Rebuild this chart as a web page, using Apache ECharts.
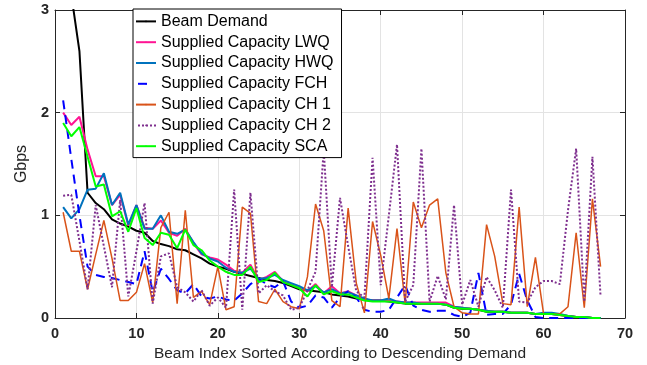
<!DOCTYPE html>
<html>
<head>
<meta charset="utf-8">
<script src="https://cdn.jsdelivr.net/npm/echarts@6/dist/echarts.min.js"></script>
<style>
  html, body { margin: 0; padding: 0; background: #fff; }
  #main { width: 647px; height: 365px; }
</style>
</head>
<body>
<div id="main"></div>
<script>
/* beam index 1..67 along x */
var beams = [];
for (var b = 1; b <= 67; b++) beams.push(b);

var beamDemand = [4.5, 3.15, 2.6, 1.22, 1.12, 1.06, 0.96, 0.92, 0.89, 0.85,
    0.83, 0.75, 0.72, 0.70, 0.67, 0.66, 0.62, 0.58, 0.53, 0.50,
    0.48, 0.45, 0.43, 0.41, 0.39, 0.37, 0.36, 0.34, 0.31, 0.28,
    0.27, 0.26, 0.25, 0.23, 0.22, 0.21, 0.19, 0.18, 0.17, 0.17,
    0.16, 0.15, 0.14, 0.14, 0.14, 0.14, 0.14, 0.13, 0.10, 0.09,
    0.09, 0.08, 0.06, 0.06, 0.06, 0.05, 0.05, 0.05, 0.04, 0.04,
    0.04, 0.03, 0.02, 0.01, 0.01, 0.0, 0.0];

var capLWQ = [2.0, 1.88, 1.96, 1.64, 1.38, 1.38, 1.10, 1.20, 0.90, 1.10,
    0.88, 0.87, 0.95, 0.83, 0.80, 0.87, 0.73, 0.62, 0.59, 0.57,
    0.52, 0.46, 0.44, 0.52, 0.37, 0.40, 0.45, 0.36, 0.33, 0.30,
    0.26, 0.33, 0.24, 0.31, 0.24, 0.26, 0.22, 0.18, 0.17, 0.17,
    0.17, 0.16, 0.15, 0.15, 0.15, 0.15, 0.15, 0.15, 0.11, 0.10,
    0.09, 0.08, 0.07, 0.06, 0.06, 0.05, 0.05, 0.05, 0.04, 0.04,
    0.04, 0.03, 0.02, 0.01, 0.01, 0.0, 0.0];

var capHWQ = [1.08, 0.97, 1.06, 1.25, 1.26, 1.41, 1.10, 1.22, 0.91, 1.10,
    0.87, 0.87, 1.00, 0.84, 0.82, 0.86, 0.74, 0.63, 0.58, 0.55,
    0.49, 0.45, 0.44, 0.48, 0.38, 0.39, 0.42, 0.37, 0.34, 0.31,
    0.27, 0.31, 0.25, 0.28, 0.24, 0.25, 0.22, 0.19, 0.17, 0.17,
    0.19, 0.16, 0.15, 0.15, 0.14, 0.14, 0.14, 0.13, 0.11, 0.10,
    0.09, 0.08, 0.07, 0.06, 0.06, 0.05, 0.05, 0.05, 0.04, 0.05,
    0.05, 0.04, 0.02, 0.01, 0.01, 0.0, 0.0];

var capFCH = [2.12, 1.55, 1.0, 0.5, 0.42, 0.40, 0.39, 0.37, 0.35, 0.33,
    0.65, 0.25, 0.48, 0.38, 0.27, 0.24, 0.33, 0.21, 0.19, 0.21,
    0.18, 0.17, 0.24, 0.33, 0.38, 0.33, 0.30, 0.36, 0.16, 0.10,
    0.12, 0.22, 0.20, 0.10, 0.20, 0.26, 0.20, 0.08, 0.06, 0.06,
    0.08, 0.20, 0.32, 0.12, 0.08, 0.06, 0.07, 0.07, 0.03, 0.01,
    0.05, 0.44, 0.03, 0.04, 0.04, 0.13, 0.43, 0.17, 0.01, 0.0,
    0.0, 0.0, 0.0, 0.0, 0.0, 0.0, 0.0];

var capCH1 = [1.03, 0.65, 0.65, 0.28, 0.62, 0.95, 0.58, 0.17, 0.17, 0.25,
    0.53, 0.15, 0.88, 1.03, 0.14, 1.05, 0.20, 0.26, 0.13, 0.50,
    0.08, 0.11, 1.08, 1.02, 0.16, 0.14, 0.28, 0.16, 0.11, 0.09,
    0.40, 1.11, 0.85, 0.17, 0.11, 1.07, 0.34, 0.05, 0.94, 0.61,
    0.19, 0.87, 0.14, 1.13, 0.88, 1.10, 1.16, 0.44, 0.11, 0.05,
    0.04, 0.04, 0.91, 0.60, 0.14, 0.13, 1.08, 0.11, 0.59, 0.04,
    0.04, 0.04, 0.11, 0.83, 0.10, 1.16, 0.50];

var capCH2 = [1.19, 1.20, 0.75, 0.28, 1.10, 0.70, 0.30, 1.15, 0.21, 0.65,
    1.12, 0.14, 0.60, 0.63, 0.30, 0.25, 0.16, 0.27, 0.12, 0.20,
    0.10, 1.25, 0.08, 1.22, 0.24, 0.32, 0.26, 0.22, 0.08, 0.10,
    0.27, 0.45, 1.64, 0.30, 1.17, 0.70, 0.26, 0.20, 1.56, 0.32,
    1.00, 1.69, 0.16, 0.32, 1.65, 0.16, 0.41, 0.18, 1.10, 0.13,
    0.37, 0.11, 0.40, 0.27, 0.10, 1.25, 0.16, 0.15, 0.30, 0.36,
    0.36, 0.33, 1.05, 1.65, 0.16, 1.57, 0.21];

var capSCA = [1.90, 1.77, 1.86, 1.57, 1.28, 1.30, 0.99, 1.04, 0.84, 1.07,
    0.78, 0.71, 0.83, 0.81, 0.68, 0.86, 0.71, 0.66, 0.56, 0.50,
    0.45, 0.42, 0.42, 0.50, 0.35, 0.37, 0.44, 0.35, 0.32, 0.29,
    0.21, 0.32, 0.23, 0.26, 0.23, 0.23, 0.20, 0.17, 0.16, 0.16,
    0.16, 0.15, 0.14, 0.14, 0.14, 0.14, 0.14, 0.13, 0.10, 0.09,
    0.09, 0.08, 0.06, 0.06, 0.06, 0.05, 0.05, 0.05, 0.04, 0.04,
    0.04, 0.03, 0.02, 0.01, 0.01, 0.0, 0.0];

var xTicks = [0, 10, 20, 30, 40, 50, 60, 70];
var yTicks = [0, 1, 2, 3];

var font = "Liberation Sans, Arial, Helvetica, sans-serif";
var axisColor = "#262626";

function pairs(vals) {
    return beams.map(function (b, i) { return [b, vals[i]]; });
}

function makeLine(name, vals, color, width, type) {
    return {
        name: name,
        type: "line",
        symbol: "none",
        data: pairs(vals),
        clip: true,
        lineStyle: { color: color, width: width, type: type },
        itemStyle: { color: color },
        emphasis: { disabled: true },
        animation: false,
    };
}

var frameAxis = {
    axisLine: { show: true, onZero: false, lineStyle: { color: axisColor, width: 1 } },
    axisTick: { show: true, inside: true, length: 5, lineStyle: { color: axisColor } },
};

var legendNames = ["Beam Demand", "Supplied Capacity LWQ", "Supplied Capacity HWQ",
    "Supplied Capacity FCH", "Supplied Capacity CH 1", "Supplied Capacity CH 2",
    "Supplied Capacity SCA"];

var myChart = echarts.init(document.getElementById("main"), null, { renderer: "canvas" });

myChart.setOption({
    animation: false,
    textStyle: { fontFamily: font },
    grid: { left: 55, right: 22, top: 10, bottom: 47, containLabel: false, outerBoundsMode: "none" },
    legend: {
        orient: "vertical",
        left: 133,
        top: 9,
        padding: [2, 8, 1, 2],
        itemWidth: 20,
        itemHeight: 2,
        itemGap: 0,
        backgroundColor: "#fff",
        borderColor: "#000",
        borderWidth: 1,
        borderRadius: 0,
        textStyle: { fontFamily: font, fontSize: 16, color: "#000", lineHeight: 20.8 },
        data: legendNames.map(function (n) {
            if (n === "Supplied Capacity FCH")
                return { name: n, lineStyle: { type: [9, 20], dashOffset: -2 } };
            return { name: n };
        }),
    },
    xAxis: [{
        type: "value",
        min: xTicks[0],
        max: xTicks[xTicks.length - 1],
        interval: 10,
        name: "Beam Index Sorted According to Descending Demand",
        nameLocation: "middle",
        nameGap: 27,
        nameTextStyle: { fontFamily: font, fontSize: 15.5, color: axisColor },
        axisLine: frameAxis.axisLine,
        axisTick: frameAxis.axisTick,
        axisLabel: { color: axisColor, fontSize: 14.5, fontWeight: "bold", margin: 8, fontFamily: font },
        splitLine: { show: true, lineStyle: { color: "#e3e3e3", width: 1 } },
    }, {
        type: "value",
        position: "top",
        min: xTicks[0],
        max: xTicks[xTicks.length - 1],
        interval: 10,
        axisLine: frameAxis.axisLine,
        axisTick: frameAxis.axisTick,
        axisLabel: { show: false },
        splitLine: { show: false },
    }],
    yAxis: [{
        type: "value",
        min: yTicks[0],
        max: yTicks[yTicks.length - 1],
        interval: 1,
        name: "Gbps",
        nameLocation: "middle",
        nameGap: 24,
        nameTextStyle: { fontFamily: font, fontSize: 16, color: axisColor },
        axisLine: frameAxis.axisLine,
        axisTick: frameAxis.axisTick,
        axisLabel: { color: axisColor, fontSize: 14.5, fontWeight: "bold", margin: 6, fontFamily: font },
        splitLine: { show: true, lineStyle: { color: "#e3e3e3", width: 1 } },
    }, {
        type: "value",
        position: "right",
        min: yTicks[0],
        max: yTicks[yTicks.length - 1],
        interval: 1,
        axisLine: frameAxis.axisLine,
        axisTick: frameAxis.axisTick,
        axisLabel: { show: false },
        splitLine: { show: false },
    }],
    series: [
        makeLine("Beam Demand", beamDemand, "#000000", 2, "solid"),
        makeLine("Supplied Capacity LWQ", capLWQ, "#ff1493", 2, "solid"),
        makeLine("Supplied Capacity HWQ", capHWQ, "#0072bd", 2, "solid"),
        makeLine("Supplied Capacity FCH", capFCH, "#0000ff", 2, [9, 6]),
        makeLine("Supplied Capacity CH 1", capCH1, "#d95319", 1.5, "solid"),
        makeLine("Supplied Capacity CH 2", capCH2, "#7e2f8e", 2, [2, 2]),
        makeLine("Supplied Capacity SCA", capSCA, "#00ff00", 2, "solid"),
    ],
});
</script>
</body>
</html>
